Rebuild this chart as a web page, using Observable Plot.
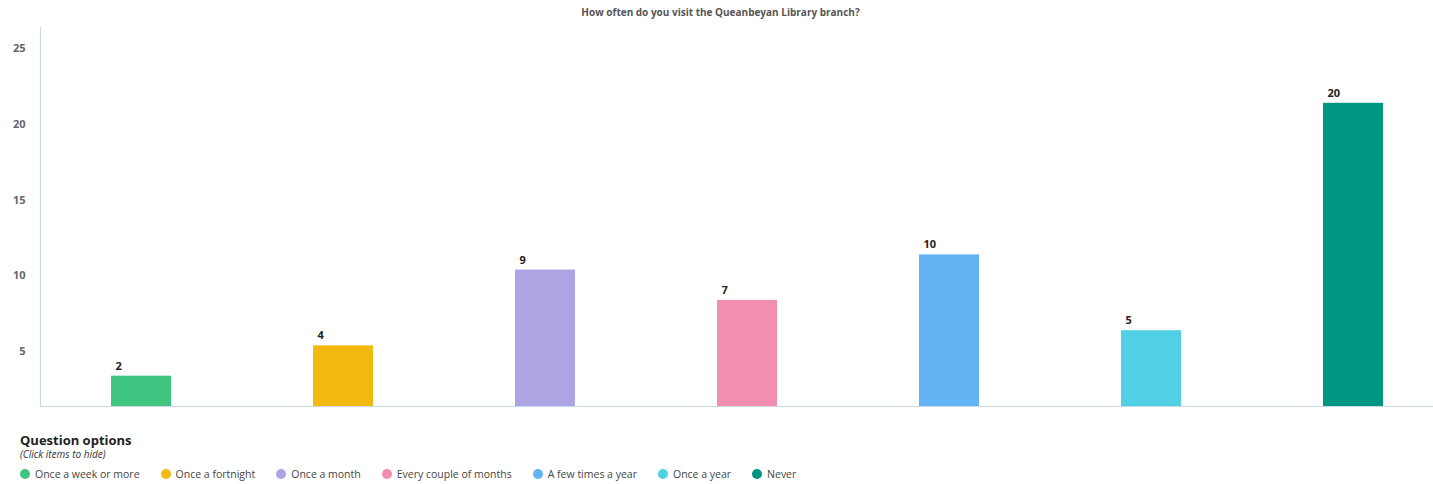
<!DOCTYPE html>
<html>
<head>
<meta charset="utf-8">
<script src="https://cdn.jsdelivr.net/npm/d3@7"></script>
<script src="https://cdn.jsdelivr.net/npm/@observablehq/plot@0.6"></script>
<style>
  body { margin: 0; background: #fff; font-family: "Open Sans", Lato, sans-serif; }
  #title { height: 24px; line-height: 24px; text-align: center; font-size: 10px; font-weight: bold; color: #555; padding-left: 8px; }
  #chart svg { display: block; }
  #legend { padding-left: 20px; margin-top: 9px; }
  #legend .head { font-size: 13px; font-weight: bold; color: #222; line-height: 15px; }
  #legend .sub { font-size: 10px; font-style: italic; color: #333; line-height: 12px; }
  #legend .items { display: flex; margin-top: 7px; font-size: 10.5px; color: #444; }
  #legend .item { display: flex; align-items: center; margin-right: 21px; }
  #legend .dot { width: 10px; height: 10px; border-radius: 50%; margin-right: 5px; }
</style>
</head>
<body>
<div id="title"></div>
<div id="chart"></div>
<div id="legend"></div>
<script>
const title = "How often do you visit the Queanbeyan Library branch?";
const categories = ["Once a week or more", "Once a fortnight", "Once a month", "Every couple of months", "A few times a year", "Once a year", "Never"];
const values = [2, 4, 9, 7, 10, 5, 20];
const colors = ["#40c580", "#f2b90f", "#ada4e4", "#f28fb0", "#63b4f5", "#4fd0e4", "#009684"];
const yTicks = [5, 10, 15, 20, 25];

const data = categories.map((c, i) => ({cat: c, value: values[i]}));

document.getElementById("title").textContent = title;

const W = 1433, ML = 40, MR = 0;
const chart = Plot.plot({
  width: W,
  height: 400,
  marginTop: 3,
  marginBottom: 18,
  marginLeft: ML,
  marginRight: MR,
  style: {fontFamily: "'Open Sans', Lato, sans-serif", background: "#fff"},
  x: {domain: categories, range: [40, 1454], paddingInner: 0.703, paddingOuter: 0.3515, axis: null},
  y: {domain: [0, 25], range: [382, 3]},
  color: {domain: categories, range: colors},
  marks: [
    Plot.ruleX([0], {x: null, dx: -(W - ML - MR) / 2, stroke: "#c9d9e6", strokeWidth: 1.2}),
    Plot.axisY(yTicks, {tickSize: 0, tickPadding: 15, dy: 21, fill: "#666", fontSize: 11, fontWeight: "bold", label: null}),
    Plot.barY(data, {x: "cat", y: "value", fill: "cat"}),
    Plot.ruleY([0], {stroke: "#c9d9e6", strokeWidth: 1.2}),
    Plot.text(data, {x: "cat", y: "value", text: d => String(d.value), textAnchor: "start", dx: -26, dy: -10, fontSize: 11, fontWeight: "bold", fill: "#222"})
  ]
});
document.getElementById("chart").appendChild(chart);

const legend = document.getElementById("legend");
legend.innerHTML = '<div class="head">Question options</div><div class="sub">(Click items to hide)</div>';
const items = document.createElement("div");
items.className = "items";
categories.forEach((c, i) => {
  const it = document.createElement("div");
  it.className = "item";
  const dot = document.createElement("span");
  dot.className = "dot";
  dot.style.background = colors[i];
  const t = document.createElement("span");
  t.textContent = c;
  it.appendChild(dot);
  it.appendChild(t);
  items.appendChild(it);
});
legend.appendChild(items);
</script>
</body>
</html>
